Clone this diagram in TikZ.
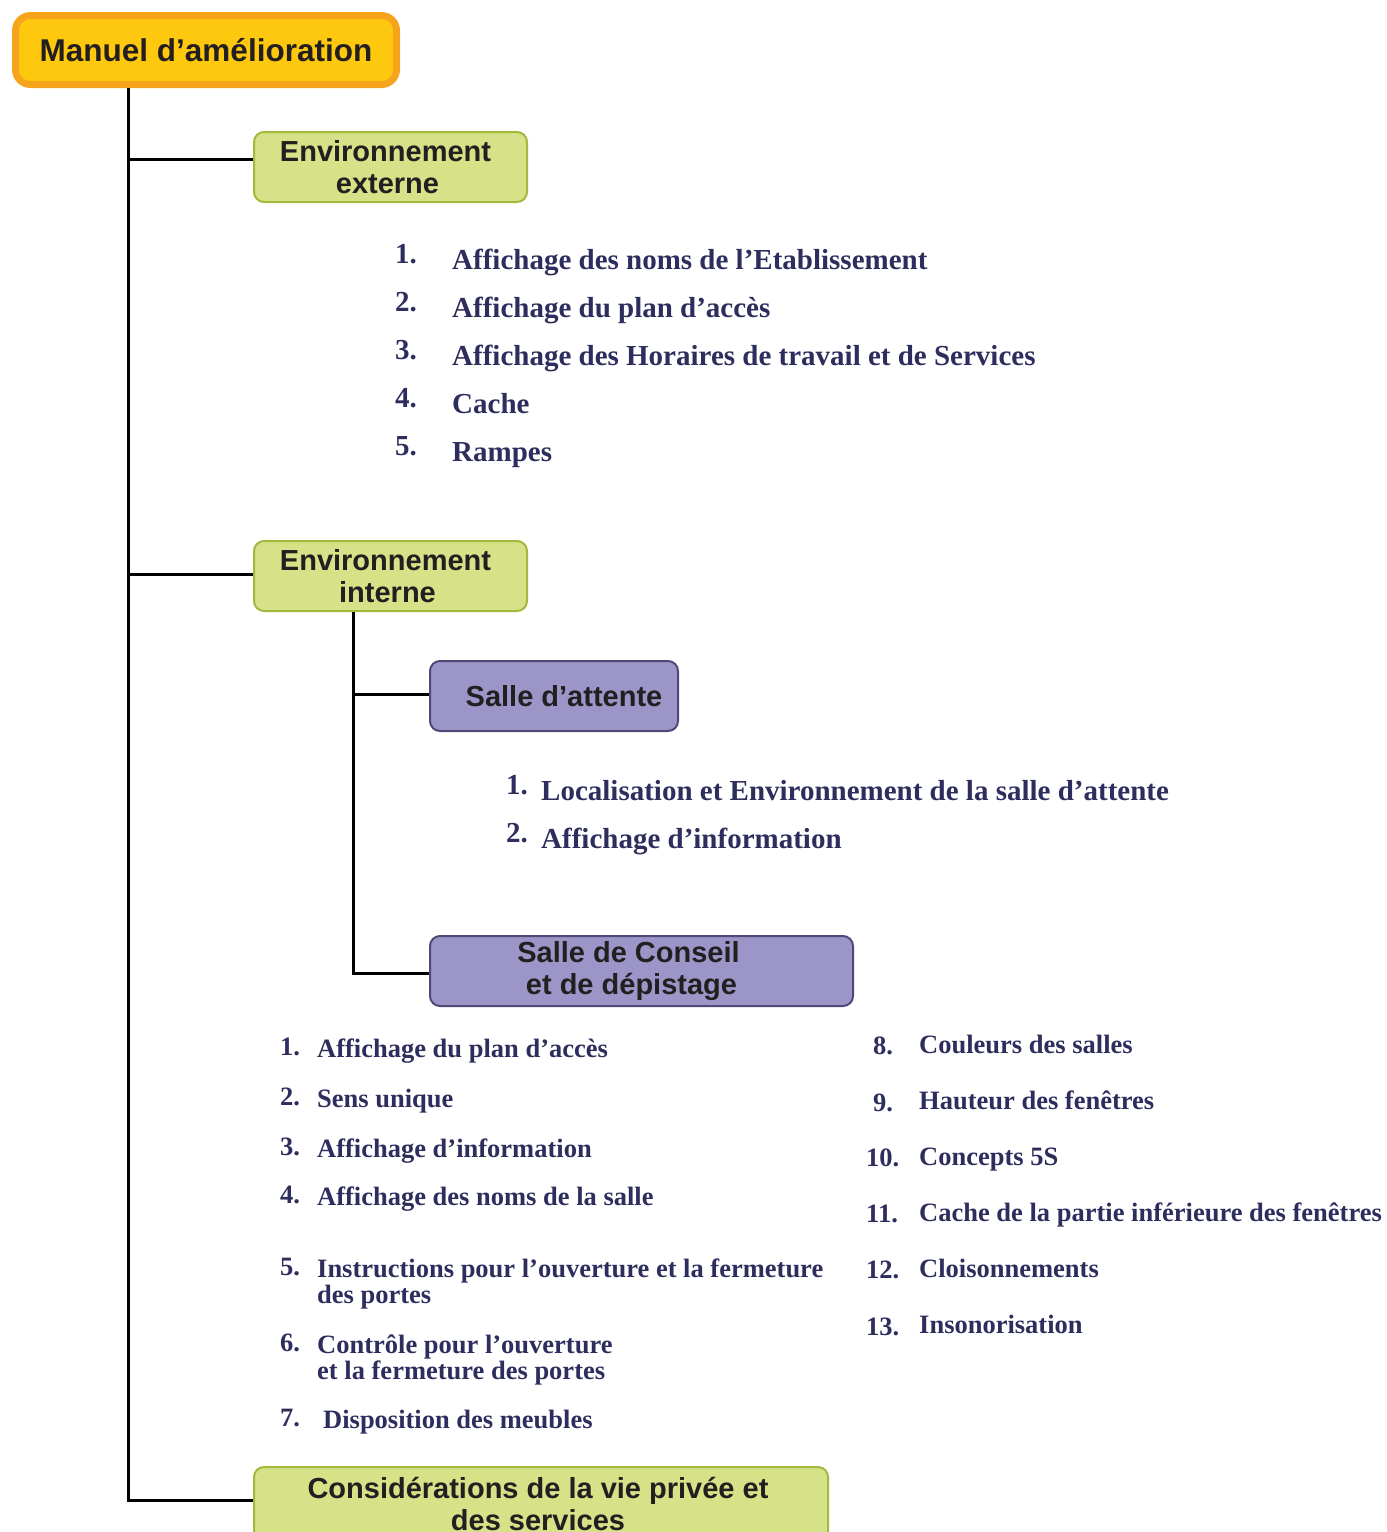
\documentclass[tikz,border=0pt]{standalone}
\usepackage{fontspec}
\setmainfont{Liberation Serif}
\newfontfamily\boxfont{Liberation Sans}
\definecolor{rootfill}{RGB}{254,200,14}
\definecolor{rootedge}{RGB}{247,164,29}
\definecolor{greenfill}{RGB}{213,226,135}
\definecolor{greenedge}{RGB}{166,184,60}
\definecolor{purplefill}{RGB}{156,150,200}
\definecolor{purpleedge}{RGB}{78,73,120}
\definecolor{boxtext}{RGB}{35,31,32}
\definecolor{navy}{RGB}{46,46,94}
\begin{document}
\begin{tikzpicture}[x=1pt,y=-1pt,
  conn/.style={line width=3pt,black},
  boxbase/.style={rectangle,rounded corners=10pt,inner sep=0pt,align=center,text=boxtext,
    font=\boxfont\bfseries\fontsize{29}{32}\selectfont},
  rootbox/.style={boxbase,draw=rootedge,fill=rootfill,line width=7pt,rounded corners=15pt,
    font=\boxfont\bfseries\fontsize{31.5}{34}\selectfont},
  greenbox/.style={boxbase,draw=greenedge,fill=greenfill,line width=2pt},
  purplebox/.style={boxbase,draw=purpleedge,fill=purplefill,line width=2pt},
  bigitem/.style={anchor=base west,inner sep=0pt,text=navy,font=\bfseries\fontsize{29}{29}\selectfont},
  smallitem/.style={anchor=base west,inner sep=0pt,text=navy,align=left,font=\bfseries\fontsize{26.5}{26}\selectfont}]
\useasboundingbox (0,0) rectangle (1387,1532);
\clip (0,0) rectangle (1387,1532);
% boxes
\node[rootbox,minimum width=381pt,minimum height=69pt] (root) at (206,50) {Manuel d’amélioration};
\node[greenbox,minimum width=273pt,minimum height=70pt] (ext) at (390.5,167) {Environnement\hspace*{10pt}\\externe\hspace*{6pt}};
\node[greenbox,minimum width=273pt,minimum height=70pt] (int) at (390.5,576) {Environnement\hspace*{10pt}\\interne\hspace*{6pt}};
\node[purplebox,minimum width=248pt,minimum height=70pt] (att) at (554,696) {\hspace*{20pt}Salle d’attente};
\node[purplebox,minimum width=423pt,minimum height=70pt] (cons) at (641.5,971) {Salle de Conseil\hspace*{26pt}\\et de dépistage\hspace*{20pt}};
\node[greenbox,minimum width=574pt,minimum height=74pt] (priv) at (541,1504) {Considérations de la vie privée et\hspace*{6pt}\\des services\hspace*{6pt}};
% connectors
\coordinate (t0) at (128,88);
\coordinate (t1) at (353,612);
\draw[conn] (t0) |- ([yshift=8pt]ext.west);
\draw[conn] (t0) |- ([yshift=2pt]int.west);
\draw[conn] (t0) |- ([yshift=4pt]priv.west);
\draw[conn] (t1) |- ([yshift=2pt]att.west);
\draw[conn] (t1) |- ([yshift=-2pt]cons.west);
% list externe
\node[bigitem] (e1n) at (395,263) {1.};
\node[bigitem] (e1) at (452,269) {Affichage des noms de l’Etablissement};
\node[bigitem] (e2n) at (395,311) {2.};
\node[bigitem] (e2) at (452,317) {Affichage du plan d’accès};
\node[bigitem] (e3n) at (395,359) {3.};
\node[bigitem] (e3) at (452,365) {Affichage des Horaires de travail et de Services};
\node[bigitem] (e4n) at (395,407) {4.};
\node[bigitem] (e4) at (452,413) {Cache};
\node[bigitem] (e5n) at (395,455) {5.};
\node[bigitem] (e5) at (452,461) {Rampes};
% list attente
\node[bigitem] (a1n) at (506,794) {1.};
\node[bigitem] (a1) at (541,800) {Localisation et Environnement de la salle d’attente};
\node[bigitem] (a2n) at (506,842) {2.};
\node[bigitem] (a2) at (541,848) {Affichage d’information};
% list conseil left
\node[smallitem] (c1n) at (280,1055) {1.};
\node[smallitem] (c1) at (317,1057) {Affichage du plan d’accès};
\node[smallitem] (c2n) at (280,1105) {2.};
\node[smallitem] (c2) at (317,1107) {Sens unique};
\node[smallitem] (c3n) at (280,1155) {3.};
\node[smallitem] (c3) at (317,1157) {Affichage d’information};
\node[smallitem] (c4n) at (280,1203) {4.};
\node[smallitem] (c4) at (317,1205) {Affichage des noms de la salle};
\node[smallitem] (c5n) at (280,1275) {5.};
\node[smallitem] (c5) at (317,1303) {Instructions pour l’ouverture et la fermeture\\des portes};
\node[smallitem] (c6n) at (280,1351) {6.};
\node[smallitem] (c6) at (317,1379) {Contrôle pour l’ouverture\\et la fermeture des portes};
\node[smallitem] (c7n) at (280,1426) {7.};
\node[smallitem] (c7) at (323,1428) {Disposition des meubles};
% list conseil right
\node[smallitem] (c8n) at (873,1054) {8.};
\node[smallitem] (c8) at (919,1053) {Couleurs des salles};
\node[smallitem] (c9n) at (873,1111) {9.};
\node[smallitem] (c9) at (919,1109) {Hauteur des fenêtres};
\node[smallitem] (c10n) at (866,1166) {10.};
\node[smallitem] (c10) at (919,1165) {Concepts 5S};
\node[smallitem] (c11n) at (866,1222) {11.};
\node[smallitem] (c11) at (919,1221) {Cache de la partie inférieure des fenêtres};
\node[smallitem] (c12n) at (866,1278) {12.};
\node[smallitem] (c12) at (919,1277) {Cloisonnements};
\node[smallitem] (c13n) at (866,1335) {13.};
\node[smallitem] (c13) at (919,1333) {Insonorisation};
\end{tikzpicture}
\end{document}
